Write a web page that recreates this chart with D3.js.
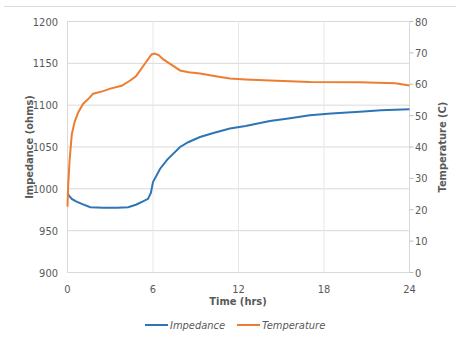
<!DOCTYPE html>
<html>
<head>
<meta charset="utf-8">
<script src="https://cdn.jsdelivr.net/npm/d3@7"></script>
<style>
  body { margin: 0; background: #fff; }
  svg text { font-family: "Liberation Sans Narrow", "DejaVu Sans Condensed", "Liberation Sans", sans-serif; fill: #595959; }
</style>
</head>
<body>
<div id="chart"></div>
<script>
// values
const impHours = [0, 0.1, 0.3, 0.6, 1.0, 1.6, 2.5, 3.5, 4.25, 4.8, 5.3, 5.65, 5.85, 6.0, 6.5, 7.0, 7.9, 8.5, 9.3, 10.3, 11.4, 12.5, 14.2, 15.5, 17, 18.5, 20.5, 22, 24];
const impedance = [995, 992, 988, 985, 982, 978, 977.5, 977.5, 978, 981, 985, 988, 995, 1008, 1024, 1035, 1050, 1056, 1062, 1067, 1072, 1075, 1081, 1084, 1088, 1090, 1092, 1094, 1095];
const tempHours = [0, 0.05, 0.15, 0.3, 0.5, 0.75, 1.1, 1.5, 1.8, 2.5, 3, 3.8, 4.4, 4.8, 5.1, 5.5, 5.9, 6.1, 6.4, 6.7, 7.2, 7.9, 8.5, 9.3, 10.5, 11.4, 12.5, 14.2, 17, 20.5, 23, 24];
const temperature = [21, 28, 36, 44, 48, 51, 53.8, 55.5, 57, 57.8, 58.6, 59.5, 61.2, 62.5, 64.4, 67, 69.5, 69.8, 69.3, 68, 66.5, 64.4, 63.8, 63.4, 62.5, 61.8, 61.5, 61.2, 60.7, 60.6, 60.3, 59.6];
const xTicks = [0, 6, 12, 18, 24];
const impTicks = [900, 950, 1000, 1050, 1100, 1150, 1200];
const tempTicks = [0, 10, 20, 30, 40, 50, 60, 70, 80];
const seriesNames = ["Impedance", "Temperature"];
const colors = ["#2e75b6", "#ed7d31"];

const W = 456, H = 341;
const m = { left: 67.5, right: 409.5, top: 21.5, bottom: 272.5 };

const svg = d3.select("#chart").append("svg").attr("width", W).attr("height", H);

const x = d3.scaleLinear().domain([0, 24]).range([m.left, m.right]);
const yL = d3.scaleLinear().domain([900, 1200]).range([m.bottom, m.top]);
const yR = d3.scaleLinear().domain([0, 80]).range([m.bottom, m.top]);

// chart frame top line
svg.append("line").attr("x1", 4).attr("x2", W).attr("y1", 6.5).attr("y2", 6.5)
  .attr("stroke", "#d9d9d9");

// gridlines
svg.append("g").selectAll("line").data(impTicks).join("line")
  .attr("x1", m.left).attr("x2", m.right)
  .attr("y1", d => yL(d)).attr("y2", d => yL(d))
  .attr("stroke", "#d9d9d9");
svg.append("g").selectAll("line").data(xTicks.slice(1, 4)).join("line")
  .attr("x1", d => x(d)).attr("x2", d => x(d))
  .attr("y1", m.top).attr("y2", m.bottom)
  .attr("stroke", "#e6e6e6");

// axes lines
svg.append("line").attr("x1", m.left).attr("x2", m.left).attr("y1", m.top).attr("y2", m.bottom).attr("stroke", "#d9d9d9");
svg.append("line").attr("x1", m.right).attr("x2", m.right).attr("y1", m.top).attr("y2", m.bottom).attr("stroke", "#d9d9d9");

// right axis ticks
svg.append("g").selectAll("line").data(tempTicks).join("line")
  .attr("x1", m.right).attr("x2", m.right + 4)
  .attr("y1", d => yR(d)).attr("y2", d => yR(d))
  .attr("stroke", "#bfbfbf");

// tick labels
svg.append("g").selectAll("text").data(impTicks).join("text")
  .attr("x", 58).attr("y", d => yL(d) + 4)
  .attr("text-anchor", "end").attr("font-size", 11)
  .text(d => d);
svg.append("g").selectAll("text").data(tempTicks).join("text")
  .attr("x", 415).attr("y", d => yR(d) + 4)
  .attr("font-size", 11)
  .text(d => d);
svg.append("g").selectAll("text").data(xTicks).join("text")
  .attr("x", d => x(d)).attr("y", 293)
  .attr("text-anchor", "middle").attr("font-size", 11)
  .text(d => d);

// axis titles
svg.append("text").attr("transform", "translate(33,147) rotate(-90)")
  .attr("text-anchor", "middle").attr("font-size", 11).attr("font-weight", "bold")
  .text("Impedance (ohms)");
svg.append("text").attr("transform", "translate(446,147) rotate(-90)")
  .attr("text-anchor", "middle").attr("font-size", 11).attr("font-weight", "bold")
  .text("Temperature (C)");
svg.append("text").attr("x", 238).attr("y", 305)
  .attr("text-anchor", "middle").attr("font-size", 11).attr("font-weight", "bold")
  .text("Time (hrs)");

// lines
const impLine = d3.line().x((d, i) => x(impHours[i])).y(d => yL(d));
const tempLine = d3.line().x((d, i) => x(tempHours[i])).y(d => yR(d));
svg.append("path").datum(impedance).attr("d", impLine)
  .attr("fill", "none").attr("stroke", colors[0]).attr("stroke-width", 2);
svg.append("path").datum(temperature).attr("d", tempLine)
  .attr("fill", "none").attr("stroke", colors[1]).attr("stroke-width", 2);

// legend
const legX = [145, 237];
const leg = svg.append("g").selectAll("g").data(seriesNames).join("g")
  .attr("transform", (d, i) => `translate(${legX[i]},325)`);
leg.append("line").attr("x1", 0).attr("x2", 23).attr("y1", 0).attr("y2", 0)
  .attr("stroke", (d, i) => colors[i]).attr("stroke-width", 2);
leg.append("text").attr("x", 25).attr("y", 4)
  .attr("font-size", 11).attr("font-style", "italic")
  .text(d => d);
</script>
</body>
</html>
